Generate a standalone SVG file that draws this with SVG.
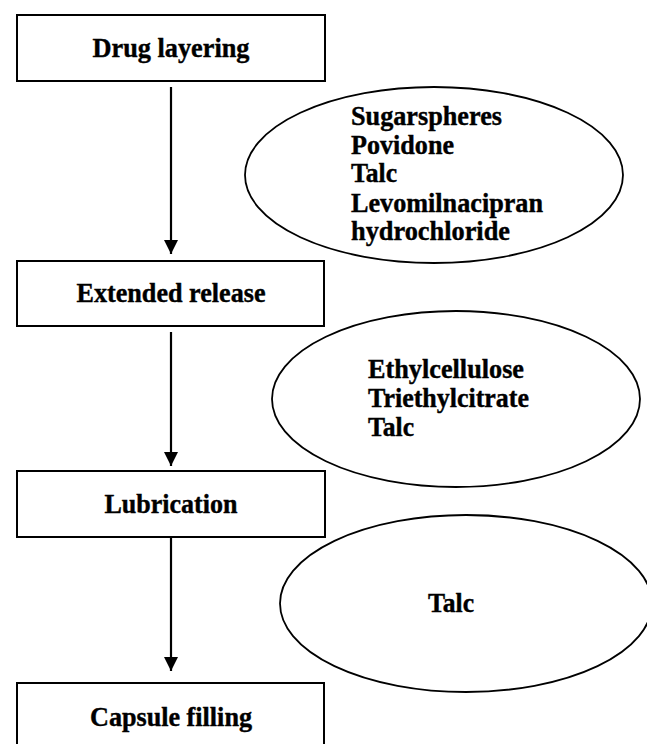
<svg xmlns="http://www.w3.org/2000/svg" width="647" height="744" viewBox="0 0 647 744">
<style>
.box{fill:#fff;stroke:#000;stroke-width:2}
.ell{fill:#fff;stroke:#000;stroke-width:1.8}
.t{font-family:"Liberation Serif","Times New Roman",serif;font-weight:bold;font-size:27px;fill:#000;stroke:#000;stroke-width:0.4}
.c{text-anchor:middle}
.conn{stroke:#000;stroke-width:2.2;fill:none}
</style>
<defs>
<marker id="ah" viewBox="0 0 14 14" refX="14" refY="7" markerWidth="14" markerHeight="14" markerUnits="userSpaceOnUse" orient="auto">
<path d="M0,0 L14,7 L0,14 Z" fill="#000"/>
</marker>
</defs>
<rect width="647" height="744" fill="#fff"/>
<g id="connectors">
<line class="conn" x1="171" y1="87" x2="171" y2="254" marker-end="url(#ah)"/>
<line class="conn" x1="171" y1="332" x2="171" y2="466" marker-end="url(#ah)"/>
<line class="conn" x1="171" y1="538" x2="171" y2="671" marker-end="url(#ah)"/>
</g>
<g id="drug-layering">
<rect class="box" x="17" y="15" width="308" height="66"/>
<text class="t c" x="171" y="57" textLength="157" lengthAdjust="spacingAndGlyphs">Drug layering</text>
</g>
<g id="extended-release">
<rect class="box" x="17" y="261" width="307" height="65"/>
<text class="t c" x="171" y="302" textLength="189" lengthAdjust="spacingAndGlyphs">Extended release</text>
</g>
<g id="lubrication">
<rect class="box" x="17" y="471" width="308" height="66"/>
<text class="t c" x="171" y="513" textLength="133" lengthAdjust="spacingAndGlyphs">Lubrication</text>
</g>
<g id="capsule-filling">
<rect class="box" x="17" y="683" width="307" height="66"/>
<text class="t c" x="171" y="726" textLength="162" lengthAdjust="spacingAndGlyphs">Capsule filling</text>
</g>
<g id="excipients-1">
<ellipse class="ell" cx="434" cy="175" rx="189" ry="88"/>
<text class="t" x="351" y="125" textLength="151" lengthAdjust="spacingAndGlyphs">Sugarspheres</text>
<text class="t" x="351" y="154" textLength="103" lengthAdjust="spacingAndGlyphs">Povidone</text>
<text class="t" x="351" y="182" textLength="46" lengthAdjust="spacingAndGlyphs">Talc</text>
<text class="t" x="351" y="212" textLength="192" lengthAdjust="spacingAndGlyphs">Levomilnacipran</text>
<text class="t" x="351" y="240" textLength="159" lengthAdjust="spacingAndGlyphs">hydrochloride</text>
</g>
<g id="excipients-2">
<ellipse class="ell" cx="456" cy="399" rx="184" ry="88"/>
<text class="t" x="368" y="378" textLength="156" lengthAdjust="spacingAndGlyphs">Ethylcellulose</text>
<text class="t" x="368" y="407" textLength="161" lengthAdjust="spacingAndGlyphs">Triethylcitrate</text>
<text class="t" x="368" y="436" textLength="46" lengthAdjust="spacingAndGlyphs">Talc</text>
</g>
<g id="excipients-3">
<ellipse class="ell" cx="466" cy="603.5" rx="186" ry="88.5"/>
<text class="t c" x="451" y="612" textLength="46" lengthAdjust="spacingAndGlyphs">Talc</text>
</g>
</svg>
